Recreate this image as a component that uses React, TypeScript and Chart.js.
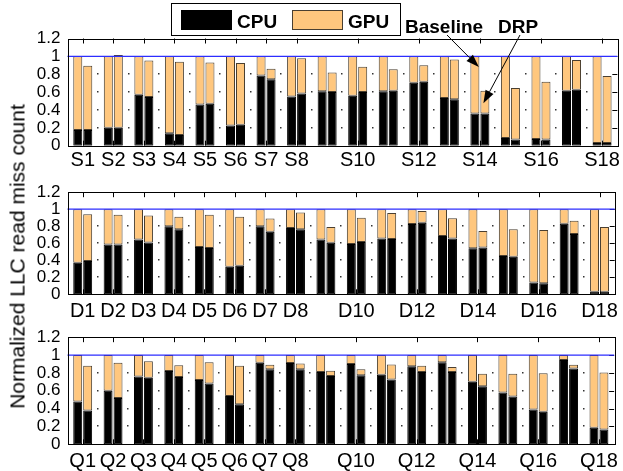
import React, { useEffect, useRef } from "react";
import { Chart, registerables } from "chart.js";

Chart.register(...registerables);

const FONT = "'Liberation Sans', Arial, Helvetica, sans-serif";
const CPU_COLOR = "#000000";
const GPU_COLOR = "#FFC77E";
const GPU_EDGE = "#4a3f30";

const seriesNames = ["CPU", "GPU"];
const configNames = ["Baseline", "DRP"];
const yAxisTitle = "Normalized LLC read miss count";

// ---------- Panel S ----------
const sCategories = ["S1","S2","S3","S4","S5","S6","S7","S8","S9","S10","S11","S12","S13","S14","S15","S16","S17","S18"];
const sTickLabels = ["S1","S2","S3","S4","S5","S6","S7","S8","","S10","","S12","","S14","","S16","","S18"];
const sBaseCpu = [0.175, 0.2, 0.57, 0.14, 0.46, 0.225, 0.785, 0.55, 0.61, 0.56, 0.61, 0.705, 0.535, 0.36, 0.085, 0.075, 0.615, 0.03];
const sBaseGpu = [0.825, 0.8, 0.43, 0.86, 0.54, 0.775, 0.215, 0.45, 0.39, 0.44, 0.39, 0.295, 0.465, 0.64, 0.915, 0.925, 0.385, 0.97];
const sDrpCpu = [0.175, 0.2, 0.545, 0.12, 0.47, 0.235, 0.745, 0.585, 0.6, 0.6, 0.615, 0.715, 0.52, 0.36, 0.07, 0.07, 0.625, 0.03];
const sDrpGpu = [0.72, 0.815, 0.41, 0.82, 0.46, 0.69, 0.115, 0.395, 0.22, 0.285, 0.24, 0.185, 0.445, 0.255, 0.575, 0.645, 0.335, 0.75];

// ---------- Panel D ----------
const dCategories = ["D1","D2","D3","D4","D5","D6","D7","D8","D9","D10","D11","D12","D13","D14","D15","D16","D17","D18"];
const dTickLabels = ["D1","D2","D3","D4","D5","D6","D7","D8","","D10","","D12","","D14","","D16","","D18"];
const dBaseCpu = [0.37, 0.585, 0.645, 0.8, 0.555, 0.325, 0.8, 0.78, 0.645, 0.59, 0.655, 0.825, 0.685, 0.54, 0.45, 0.14, 0.83, 0.03];
const dBaseGpu = [0.63, 0.415, 0.355, 0.2, 0.445, 0.675, 0.2, 0.22, 0.355, 0.41, 0.345, 0.175, 0.315, 0.46, 0.55, 0.86, 0.17, 0.97];
const dDrpCpu = [0.39, 0.585, 0.61, 0.765, 0.545, 0.335, 0.735, 0.765, 0.605, 0.615, 0.65, 0.84, 0.655, 0.55, 0.44, 0.13, 0.71, 0.03];
const dDrpGpu = [0.55, 0.35, 0.315, 0.145, 0.39, 0.575, 0.155, 0.195, 0.185, 0.285, 0.305, 0.14, 0.24, 0.195, 0.325, 0.625, 0.155, 0.76];

// ---------- Panel Q ----------
const qCategories = ["Q1","Q2","Q3","Q4","Q5","Q6","Q7","Q8","Q9","Q10","Q11","Q12","Q13","Q14","Q15","Q16","Q17","Q18"];
const qTickLabels = ["Q1","Q2","Q3","Q4","Q5","Q6","Q7","Q8","","Q10","","Q12","","Q14","","Q16","","Q18"];
const qBaseCpu = [0.48, 0.6, 0.76, 0.82, 0.72, 0.54, 0.915, 0.91, 0.81, 0.9, 0.78, 0.875, 0.92, 0.7, 0.58, 0.39, 0.945, 0.185];
const qBaseGpu = [0.52, 0.4, 0.24, 0.18, 0.28, 0.46, 0.085, 0.09, 0.19, 0.1, 0.22, 0.125, 0.08, 0.3, 0.42, 0.61, 0.055, 0.815];
const qDrpCpu = [0.38, 0.52, 0.745, 0.755, 0.68, 0.45, 0.84, 0.84, 0.765, 0.775, 0.725, 0.81, 0.81, 0.65, 0.535, 0.365, 0.85, 0.165];
const qDrpGpu = [0.5, 0.395, 0.185, 0.13, 0.24, 0.43, 0.05, 0.065, 0.06, 0.065, 0.17, 0.07, 0.055, 0.14, 0.255, 0.43, 0.04, 0.64];

const referenceLevel = 1;
const annotatedCategory = 13; // S14
const baselineArrowValue = 0.88;
const drpArrowValue = 0.475;

const framePlugin = {
  id: "frame",
  beforeDatasetsDraw(chart: any) {
    const { ctx, chartArea: a, scales } = chart;
    const x = scales.x;
    const y = scales.y;
    const n = chart.data.labels.length;
    const labels: string[] = chart.options.plugins.frame.tickLabels;
    ctx.save();
    ctx.fillStyle = "#333";
    const yVals = y.ticks.map((t: any) => t.value).filter((v: number) => v > 0.001 && v < 0.999);
    for (let i = 0; i < n - 1; i++) {
      const px = Math.round((x.getPixelForValue(i) + x.getPixelForValue(i + 1)) / 2);
      for (const v of yVals) {
        const py = Math.round(y.getPixelForValue(v));
        ctx.fillRect(px - 1, py - 1, 1.5, 1.5);
      }
    }
    ctx.strokeStyle = "#000";
    ctx.lineWidth = 1;
    ctx.beginPath();
    for (const t of y.ticks) {
      const py = Math.round(y.getPixelForValue(t.value)) + 0.5;
      ctx.moveTo(a.right, py);
      ctx.lineTo(a.right - 5, py);
    }
    for (let i = 0; i < n; i++) {
      if (!labels[i]) continue;
      const px = Math.round(x.getPixelForValue(i)) + 0.5;
      ctx.moveTo(px, a.top);
      ctx.lineTo(px, a.top + 5);
      ctx.moveTo(px, a.bottom);
      ctx.lineTo(px, a.bottom - 5);
    }
    ctx.stroke();
    ctx.restore();
  },
  afterDatasetsDraw(chart: any) {
    const { ctx, chartArea: a, scales } = chart;
    const y = scales.y;
    ctx.save();
    const py = y.getPixelForValue(referenceLevel);
    ctx.strokeStyle = "#2d2dff";
    ctx.lineWidth = 1.3;
    ctx.beginPath();
    ctx.moveTo(a.left, py);
    ctx.lineTo(a.right, py);
    ctx.stroke();
    ctx.strokeStyle = "#000";
    ctx.lineWidth = 1;
    ctx.strokeRect(Math.round(a.left) + 0.5, Math.round(a.top) + 0.5, Math.round(a.right - a.left), Math.round(a.bottom - a.top));
    ctx.restore();
  },
};

function drawArrow(ctx: CanvasRenderingContext2D, x0: number, y0: number, x1: number, y1: number) {
  const dx = x1 - x0;
  const dy = y1 - y0;
  const len = Math.hypot(dx, dy);
  const ux = dx / len;
  const uy = dy / len;
  const headLen = 13;
  const headHalf = 4.5;
  const bx = x1 - ux * headLen;
  const by = y1 - uy * headLen;
  ctx.beginPath();
  ctx.moveTo(x0, y0);
  ctx.lineTo(bx, by);
  ctx.stroke();
  ctx.beginPath();
  ctx.moveTo(x1, y1);
  ctx.lineTo(bx - uy * headHalf, by + ux * headHalf);
  ctx.lineTo(bx + uy * headHalf, by - ux * headHalf);
  ctx.closePath();
  ctx.fill();
}

const annotationPlugin = {
  id: "annot",
  afterDraw(chart: any) {
    const { ctx, scales } = chart;
    const x = scales.x;
    const y = scales.y;
    ctx.save();
    ctx.fillStyle = "#fff";
    ctx.fillRect(171, 3, 229, 32);
    ctx.strokeStyle = "#000";
    ctx.lineWidth = 1;
    ctx.strokeRect(171.5, 3.5, 229, 32);
    ctx.fillStyle = CPU_COLOR;
    ctx.fillRect(181, 10, 51, 20);
    ctx.fillStyle = GPU_COLOR;
    ctx.fillRect(292, 10, 51, 20);
    ctx.strokeStyle = GPU_EDGE;
    ctx.strokeRect(292.5, 10.5, 50, 19);
    ctx.fillStyle = "#000";
    ctx.font = `bold 19px ${FONT}`;
    ctx.textBaseline = "alphabetic";
    ctx.textAlign = "left";
    ctx.fillText(seriesNames[0], 237, 28);
    ctx.fillText(seriesNames[1], 348, 28);
    ctx.fillText(configNames[0], 405, 33);
    ctx.fillText(configNames[1], 498, 33);
    const cx = x.getPixelForValue(annotatedCategory);
    ctx.strokeStyle = "#000";
    ctx.fillStyle = "#000";
    ctx.lineWidth = 1;
    drawArrow(ctx, 447, 35, cx - 1, y.getPixelForValue(baselineArrowValue));
    drawArrow(ctx, 520, 35, cx + 3.5, y.getPixelForValue(drpArrowValue));
    ctx.restore();
  },
};

type PanelProps = {
  categories: string[];
  tickLabels: string[];
  baseCpu: number[];
  baseGpu: number[];
  drpCpu: number[];
  drpGpu: number[];
  top: number;
  height: number;
  areaTop: number;
  areaBottom: number;
  labelPad: number;
  annotate?: boolean;
};

function Panel(props: PanelProps) {
  const ref = useRef<HTMLCanvasElement>(null);
  useEffect(() => {
    const canvas = ref.current!;
    const common = { borderWidth: 1, borderSkipped: false as const };
    const chart = new Chart(canvas, {
      type: "bar",
      data: {
        labels: props.categories,
        datasets: [
          { label: seriesNames[0], data: props.baseCpu, stack: configNames[0], backgroundColor: CPU_COLOR, borderColor: "#000", ...common },
          { label: seriesNames[1], data: props.baseGpu, stack: configNames[0], backgroundColor: GPU_COLOR, borderColor: GPU_EDGE, ...common },
          { label: seriesNames[0], data: props.drpCpu, stack: configNames[1], backgroundColor: CPU_COLOR, borderColor: "#000", ...common },
          { label: seriesNames[1], data: props.drpGpu, stack: configNames[1], backgroundColor: GPU_COLOR, borderColor: GPU_EDGE, ...common },
        ],
      },
      options: {
        responsive: false,
        animation: false,
        devicePixelRatio: 1,
        layout: { padding: { top: props.areaTop, right: 5, left: 0, bottom: 0 } },
        datasets: { bar: { categoryPercentage: 0.655, barPercentage: 0.9 } },
        plugins: {
          legend: { display: false },
          tooltip: { enabled: false },
          // @ts-ignore
          frame: { tickLabels: props.tickLabels },
        },
        scales: {
          x: {
            stacked: true,
            grid: { display: false, drawTicks: false },
            border: { display: false },
            ticks: {
              autoSkip: false,
              maxRotation: 0,
              minRotation: 0,
              padding: props.labelPad,
              color: "#000",
              font: { family: FONT, size: 20 },
              callback: (_v: any, i: number) => props.tickLabels[i],
            },
            afterFit: (s: any) => {
              s.height = props.height - props.areaBottom;
            },
          },
          y: {
            stacked: true,
            min: 0,
            max: 1.2,
            grid: { display: false, drawTicks: false },
            border: { display: false },
            ticks: {
              stepSize: 0.2,
              autoSkip: false,
              padding: 7,
              color: "#000",
              font: { family: FONT, size: 17 },
              callback: (v: any) => String(Number(Number(v).toFixed(1))),
            },
            afterFit: (s: any) => {
              s.width = 67.5;
            },
          },
        },
      },
      plugins: props.annotate ? [framePlugin, annotationPlugin] : [framePlugin],
    } as any);
    return () => chart.destroy();
  }, []);
  return (
    <canvas
      ref={ref}
      width={623}
      height={props.height}
      style={{ position: "absolute", left: 0, top: props.top, width: 623, height: props.height }}
    />
  );
}

export default function App() {
  return (
    <div style={{ position: "absolute", left: 0, top: 0, width: 623, height: 471, background: "#fff", overflow: "hidden" }}>
      <Panel
        categories={sCategories}
        tickLabels={sTickLabels}
        baseCpu={sBaseCpu}
        baseGpu={sBaseGpu}
        drpCpu={sDrpCpu}
        drpGpu={sDrpGpu}
        top={0}
        height={175}
        areaTop={38.5}
        areaBottom={145.7}
        labelPad={3}
        annotate
      />
      <Panel
        categories={dCategories}
        tickLabels={dTickLabels}
        baseCpu={dBaseCpu}
        baseGpu={dBaseGpu}
        drpCpu={dDrpCpu}
        drpGpu={dDrpGpu}
        top={175}
        height={145}
        areaTop={13.3}
        areaBottom={119.3}
        labelPad={5}
      />
      <Panel
        categories={qCategories}
        tickLabels={qTickLabels}
        baseCpu={qBaseCpu}
        baseGpu={qBaseGpu}
        drpCpu={qDrpCpu}
        drpGpu={qDrpGpu}
        top={320}
        height={151}
        areaTop={16}
        areaBottom={124.3}
        labelPad={5}
      />
      <div
        style={{
          position: "absolute",
          left: 16.5 - 200,
          top: 256.5 - 10.5,
          width: 400,
          height: 21,
          lineHeight: "21px",
          textAlign: "center",
          fontFamily: FONT,
          fontSize: 21,
          color: "#000",
          transform: "rotate(-90deg)",
          whiteSpace: "nowrap",
        }}
      >
        {yAxisTitle}
      </div>
    </div>
  );
}
